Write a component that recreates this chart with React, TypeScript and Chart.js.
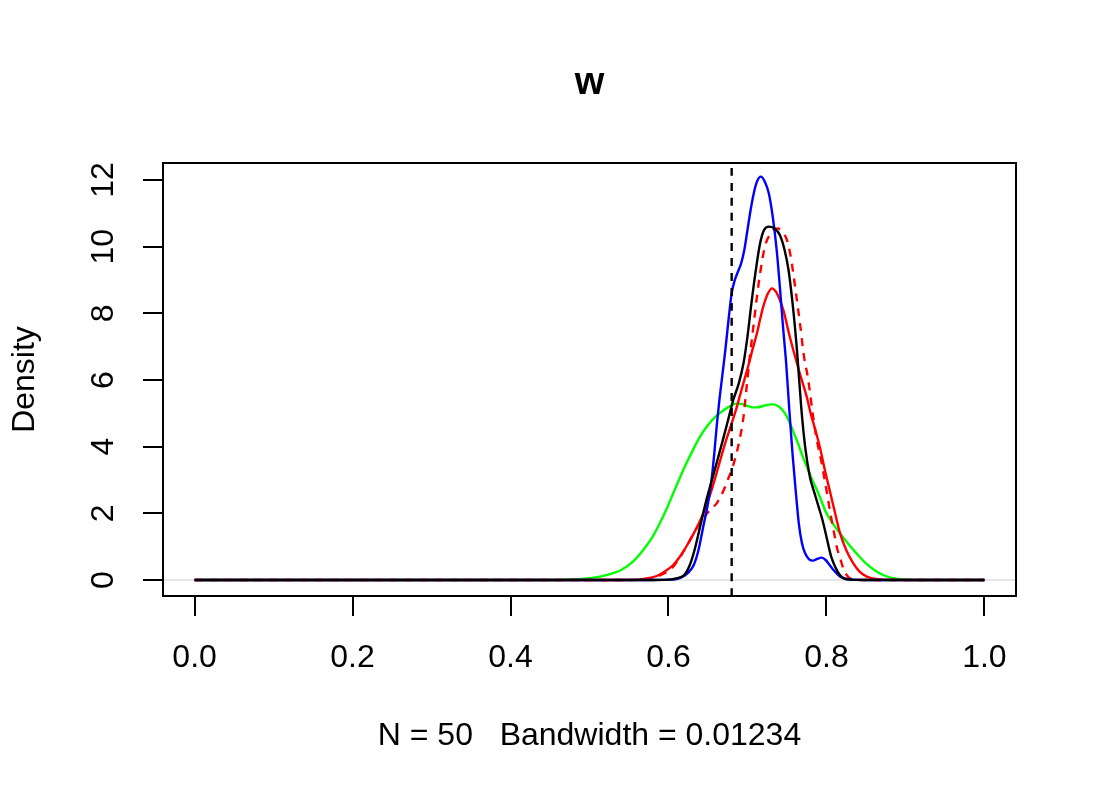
import React, { useEffect, useRef } from "react";
import { Chart, registerables } from "chart.js";

Chart.register(...registerables);

// ---- tick labels ----
const xTickValues = [0, 0.2, 0.4, 0.6, 0.8, 1.0];
const xTickLabels = ["0.0", "0.2", "0.4", "0.6", "0.8", "1.0"];
const yTickValues = [0, 2, 4, 6, 8, 10, 12];
const yTickLabels = ["0", "2", "4", "6", "8", "10", "12"];

const mainTitle = "w";
const xAxisTitle = "N = 50   Bandwidth = 0.01234";
const yAxisTitle = "Density";

// ---- series ----
const blueX = [0, 0.58, 0.6, 0.61, 0.618, 0.625, 0.632, 0.638, 0.644, 0.65, 0.655, 0.658, 0.661, 0.664, 0.668, 0.672, 0.676, 0.68, 0.684, 0.688, 0.692, 0.696, 0.7, 0.704, 0.708, 0.712, 0.717, 0.722, 0.727, 0.732, 0.737, 0.741, 0.745, 0.749, 0.753, 0.757, 0.761, 0.765, 0.769, 0.773, 0.778, 0.783, 0.788, 0.794, 0.799, 0.804, 0.809, 0.815, 0.82, 0.826, 0.835, 0.85, 1.0];
const blueY = [0, 0, 0.01, 0.03, 0.1, 0.22, 0.45, 0.9, 1.6, 2.3, 3.1, 3.8, 4.6, 5.3, 6.1, 6.9, 7.8, 8.6, 9.0, 9.25, 9.5, 9.9, 10.5, 11.1, 11.6, 11.95, 12.1, 11.95, 11.6, 10.9, 9.9, 8.8, 7.6, 6.5, 5.1, 3.8, 2.7, 1.7, 1.1, 0.8, 0.62, 0.58, 0.63, 0.67, 0.6, 0.45, 0.3, 0.15, 0.07, 0.03, 0.01, 0, 0];

const blackX = [0, 0.58, 0.6, 0.61, 0.62, 0.627, 0.633, 0.64, 0.648, 0.655, 0.662, 0.67, 0.676, 0.682, 0.689, 0.695, 0.7, 0.705, 0.71, 0.716, 0.721, 0.727, 0.734, 0.741, 0.747, 0.752, 0.758, 0.763, 0.768, 0.773, 0.779, 0.785, 0.79, 0.795, 0.8, 0.806, 0.811, 0.817, 0.822, 0.83, 0.85, 1.0];
const blackY = [0, 0, 0.01, 0.05, 0.15, 0.45, 0.9, 1.6, 2.4, 3.0, 3.6, 4.3, 4.85, 5.4, 5.9, 6.5, 7.3, 8.3, 9.2, 10.1, 10.5, 10.6, 10.55, 10.35, 9.9, 9.3, 8.1, 6.8, 5.2, 4.0, 3.1, 2.6, 2.2, 1.8, 1.3, 0.7, 0.4, 0.15, 0.05, 0.01, 0, 0];

const redX = [0, 0.54, 0.56, 0.568, 0.578, 0.585, 0.595, 0.606, 0.615, 0.623, 0.632, 0.64, 0.647, 0.653, 0.659, 0.665, 0.672, 0.68, 0.686, 0.691, 0.696, 0.701, 0.706, 0.712, 0.716, 0.72, 0.726, 0.731, 0.736, 0.741, 0.746, 0.752, 0.758, 0.765, 0.77, 0.775, 0.78, 0.786, 0.792, 0.798, 0.805, 0.811, 0.817, 0.825, 0.834, 0.842, 0.851, 0.86, 0.875, 0.9, 1.0];
const redY = [0, 0, 0.01, 0.03, 0.07, 0.12, 0.25, 0.45, 0.72, 1.02, 1.4, 1.78, 2.17, 2.58, 3.05, 3.55, 4.12, 4.7, 5.15, 5.58, 6.0, 6.42, 6.88, 7.4, 7.82, 8.2, 8.6, 8.75, 8.65, 8.4, 8.05, 7.45, 6.9, 6.3, 5.9, 5.5, 5.0, 4.5, 3.95, 3.3, 2.6, 2.0, 1.42, 0.9, 0.5, 0.25, 0.1, 0.04, 0.01, 0, 0];

const redDashX = [0, 0.55, 0.57, 0.585, 0.595, 0.606, 0.615, 0.623, 0.632, 0.64, 0.649, 0.655, 0.661, 0.666, 0.67, 0.675, 0.68, 0.685, 0.69, 0.695, 0.699, 0.703, 0.708, 0.712, 0.716, 0.722, 0.728, 0.733, 0.738, 0.744, 0.75, 0.754, 0.758, 0.762, 0.767, 0.771, 0.777, 0.782, 0.787, 0.794, 0.8, 0.805, 0.809, 0.813, 0.818, 0.822, 0.828, 0.835, 0.85, 1.0];
const redDashY = [0, 0, 0.02, 0.1, 0.2, 0.4, 0.7, 1.02, 1.4, 1.72, 2.0, 2.15, 2.3, 2.5, 2.7, 3.0, 3.3, 3.7, 4.2, 4.9, 5.8, 6.7, 7.7, 8.5, 9.2, 10.0, 10.35, 10.5, 10.55, 10.45, 10.2, 9.8, 9.2, 8.5, 7.6, 6.8, 6.0, 5.1, 4.3, 3.5, 2.7, 2.0, 1.5, 1.0, 0.6, 0.3, 0.08, 0.02, 0, 0];

const greenX = [0, 0.44, 0.46, 0.475, 0.49, 0.505, 0.52, 0.54, 0.555, 0.568, 0.58, 0.589, 0.598, 0.606, 0.615, 0.623, 0.632, 0.64, 0.65, 0.661, 0.672, 0.68, 0.686, 0.693, 0.7, 0.706, 0.712, 0.72, 0.727, 0.733, 0.74, 0.746, 0.752, 0.758, 0.764, 0.77, 0.776, 0.782, 0.788, 0.794, 0.8, 0.808, 0.817, 0.827, 0.838, 0.85, 0.864, 0.875, 0.888, 0.9, 0.92, 1.0];
const greenY = [0, 0, 0.005, 0.015, 0.03, 0.07, 0.14, 0.3, 0.55, 0.9, 1.3, 1.7, 2.15, 2.6, 3.1, 3.52, 3.95, 4.3, 4.65, 4.93, 5.13, 5.24, 5.29, 5.28, 5.22, 5.18, 5.18, 5.22, 5.26, 5.27, 5.2, 5.05, 4.8, 4.45, 4.1, 3.7, 3.35, 3.0, 2.7, 2.35, 2.0, 1.7, 1.4, 1.1, 0.8, 0.5, 0.25, 0.12, 0.04, 0.01, 0, 0];

const referenceX = [0.68];
const zeroLineY = [0];

// axis limits (R style: data range extended by 4%)
const xLimits = [-0.04, 1.04];
const yLimits = [-0.48, 12.51];

const FONT = "'Liberation Sans', Arial, Helvetica, sans-serif";

function pts(xs: number[], ys: number[]) {
  return xs.map((x, i) => ({ x, y: ys[i] }));
}

const boxPlugin = {
  id: "plotBox",
  afterDraw(chart: any) {
    const { ctx, chartArea } = chart;
    const { left, top, right, bottom } = chartArea;
    ctx.save();
    ctx.strokeStyle = "#000";
    ctx.lineWidth = 2;
    ctx.strokeRect(left, top, right - left, bottom - top);
    ctx.restore();
  },
};

export default function App() {
  const ref = useRef<HTMLCanvasElement>(null);

  useEffect(() => {
    if (!ref.current) return;
    Chart.defaults.font.family = FONT;
    Chart.defaults.color = "#000";

    const lineBase = {
      pointRadius: 0,
      pointHoverRadius: 0,
      borderWidth: 2.4,
      fill: false,
      cubicInterpolationMode: "monotone" as const,
    };

    const chart = new Chart(ref.current, {
      type: "line",
      data: {
        datasets: [
          {
            ...lineBase,
            label: "reference",
            data: [
              { x: referenceX[0], y: yLimits[0] },
              { x: referenceX[0], y: yLimits[1] },
            ],
            borderColor: "#000000",
            borderDash: [8, 7],
            order: 0,
          },
          {
            ...lineBase,
            label: "black",
            data: pts(blackX, blackY),
            borderColor: "#000000",
            order: 1,
          },
          {
            ...lineBase,
            label: "blue",
            data: pts(blueX, blueY),
            borderColor: "#0000FF",
            order: 2,
          },
          {
            ...lineBase,
            label: "red dashed",
            data: pts(redDashX, redDashY),
            borderColor: "#FF0000",
            borderDash: [8, 7],
            order: 3,
          },
          {
            ...lineBase,
            label: "red",
            data: pts(redX, redY),
            borderColor: "#FF0000",
            order: 4,
          },
          {
            ...lineBase,
            label: "green",
            data: pts(greenX, greenY),
            borderColor: "#00FF00",
            order: 5,
          },
          {
            ...lineBase,
            label: "zero",
            data: [
              { x: xLimits[0], y: zeroLineY[0] },
              { x: xLimits[1], y: zeroLineY[0] },
            ],
            borderColor: "#e6e6e6",
            borderWidth: 2,
            order: 6,
          },
        ],
      },
      options: {
        responsive: false,
        animation: false,
        events: [],
        layout: { padding: { top: 0, left: 0, right: 84, bottom: 0 } },
        plugins: {
          legend: { display: false },
          tooltip: { enabled: false },
          title: {
            display: true,
            text: mainTitle,
            fullSize: false,
            color: "#000",
            font: { family: FONT, size: 38, weight: "bold", lineHeight: 1.2 },
            padding: { top: 61, bottom: 56.4 },
          },
        },
        scales: {
          x: {
            type: "linear",
            position: "bottom",
            min: xLimits[0],
            max: xLimits[1],
            afterBuildTicks: (s: any) => {
              s.ticks = xTickValues.map((v) => ({ value: v }));
            },
            afterFit: (s: any) => {
              s.height = 204;
            },
            grid: {
              drawOnChartArea: false,
              drawTicks: true,
              tickLength: 20,
              lineWidth: 2,
              tickWidth: 2,
              color: "#000",
              tickColor: "#000",
            },
            border: { display: true, color: "#000", width: 2 },
            ticks: {
              autoSkip: false,
              maxRotation: 0,
              minRotation: 0,
              padding: 23,
              color: "#000",
              font: { family: FONT, size: 32 },
              callback: (_v: any, i: number) => xTickLabels[i],
            },
            title: {
              display: true,
              text: xAxisTitle,
              color: "#000",
              font: { family: FONT, size: 32 },
              padding: { top: 0, bottom: 45 },
            },
          },
          y: {
            type: "linear",
            position: "left",
            min: yLimits[0],
            max: yLimits[1],
            afterBuildTicks: (s: any) => {
              s.ticks = yTickValues.map((v) => ({ value: v }));
            },
            afterFit: (s: any) => {
              s.width = 163;
            },
            grid: {
              drawOnChartArea: false,
              drawTicks: true,
              tickLength: 20,
              lineWidth: 2,
              tickWidth: 2,
              color: "#000",
              tickColor: "#000",
            },
            border: { display: true, color: "#000", width: 2 },
            ticks: {
              autoSkip: false,
              minRotation: 90,
              maxRotation: 90,
              crossAlign: "center",
              padding: 21,
              color: "#000",
              font: { family: FONT, size: 32 },
              callback: (_v: any, i: number) => yTickLabels[i],
            },
            title: {
              display: true,
              text: yAxisTitle,
              color: "#000",
              font: { family: FONT, size: 32 },
              padding: { top: 6, bottom: 0 },
            },
          },
        },
      },
      plugins: [boxPlugin],
    } as any);

    return () => chart.destroy();
  }, []);

  return (
    <div style={{ position: "absolute", left: 0, top: 0, width: 1100, height: 800, background: "#fff" }}>
      <canvas ref={ref} width={1100} height={800} style={{ display: "block", width: 1100, height: 800 }} />
    </div>
  );
}
